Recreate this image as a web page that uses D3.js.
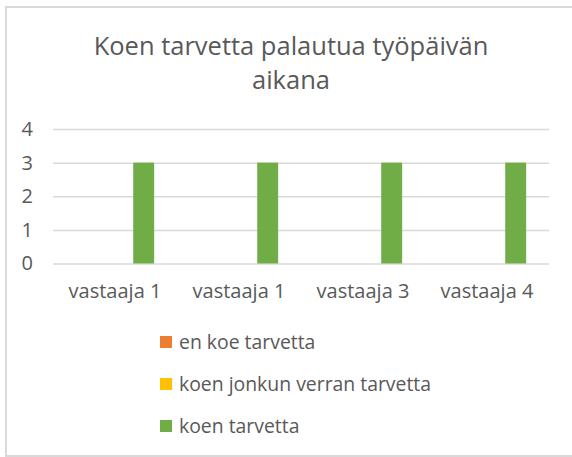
<!DOCTYPE html>
<html>
<head>
<meta charset="utf-8">
<script src="https://cdn.jsdelivr.net/npm/d3@7"></script>
<style>
  body { margin: 0; background: #fff; }
  svg { display: block; font-family: "Open Sans", sans-serif; }
</style>
</head>
<body>
<svg id="chart" width="572" height="457"></svg>
<script>
// chart data
var titleLines = ["Koen tarvetta palautua työpäivän", "aikana"];
var categories = ["vastaaja 1", "vastaaja 1", "vastaaja 3", "vastaaja 4"];
var seriesNames = ["en koe tarvetta", "koen jonkun verran tarvetta", "koen tarvetta"];
var seriesColors = ["#ed7d31", "#ffc000", "#70ad47"];
var enKoe = [0, 0, 0, 0];
var jonkunVerran = [0, 0, 0, 0];
var koenTarvetta = [3, 3, 3, 3];
var yTicks = [0, 1, 2, 3, 4];

var seriesValues = [enKoe, jonkunVerran, koenTarvetta];

var svg = d3.select("#chart"),
    plot = { left: 53, right: 549, top: 129, bottom: 263.5 },
    textColor = "#595959",
    gridColor = "#d9d9d9";

// outer frame
svg.append("rect")
    .attr("x", 6).attr("y", 7)
    .attr("width", 580).attr("height", 449)
    .attr("fill", "none")
    .attr("stroke", gridColor)
    .attr("stroke-width", 2);

// title
svg.append("g")
    .selectAll("text")
    .data(titleLines)
    .join("text")
    .attr("x", 291)
    .attr("y", (d, i) => 55 + i * 34)
    .attr("text-anchor", "middle")
    .attr("font-size", 25.5)
    .attr("fill", textColor)
    .text(d => d);

var y = d3.scaleLinear().domain([0, 4]).range([plot.bottom, plot.top]);

var x0 = d3.scaleBand()
    .domain(d3.range(categories.length))
    .range([plot.left, plot.right])
    .paddingInner(0.306)
    .paddingOuter(0.153);

var x1 = d3.scaleBand()
    .domain(d3.range(seriesNames.length))
    .range([0, x0.bandwidth()])
    .paddingInner(0.27)
    .paddingOuter(0.135);

// gridlines + y labels
var yAxis = svg.append("g")
    .attr("transform", `translate(${plot.left},0)`)
    .call(d3.axisLeft(y).tickValues(yTicks).tickSize(-(plot.right - plot.left)).tickPadding(20).tickFormat(d3.format("d")));
yAxis.select(".domain").remove();
yAxis.selectAll(".tick line").attr("stroke", gridColor).attr("stroke-width", 1.5);
yAxis.selectAll(".tick text")
    .attr("fill", textColor)
    .attr("font-size", 20)
    .attr("font-family", "Open Sans, sans-serif");

// bars
svg.append("g")
    .selectAll("g")
    .data(seriesValues)
    .join("g")
    .attr("fill", (d, i) => seriesColors[i])
    .each(function (values, si) {
        d3.select(this).selectAll("rect")
            .data(values)
            .join("rect")
            .attr("x", (v, ci) => x0(ci) + x1(si))
            .attr("width", x1.bandwidth())
            .attr("y", v => y(v))
            .attr("height", v => y(0) - y(v));
    });

// category labels
var xAxis = svg.append("g")
    .attr("transform", `translate(0,${plot.bottom})`)
    .call(d3.axisBottom(x0).tickSize(0).tickFormat(i => categories[i]));
xAxis.select(".domain").remove();
xAxis.selectAll(".tick text")
    .attr("y", 34)
    .attr("dy", null)
    .attr("fill", textColor)
    .attr("font-size", 20)
    .attr("font-family", "Open Sans, sans-serif");

// legend
var legend = svg.append("g")
    .selectAll("g")
    .data(seriesNames)
    .join("g")
    .attr("transform", (d, i) => `translate(160,${342 + i * 42})`);
legend.append("rect")
    .attr("x", 0).attr("y", -6)
    .attr("width", 12).attr("height", 12)
    .attr("fill", (d, i) => seriesColors[i]);
legend.append("text")
    .attr("x", 19)
    .attr("dy", "0.35em")
    .attr("font-size", 19.4)
    .attr("fill", textColor)
    .text(d => d);
</script>
</body>
</html>
